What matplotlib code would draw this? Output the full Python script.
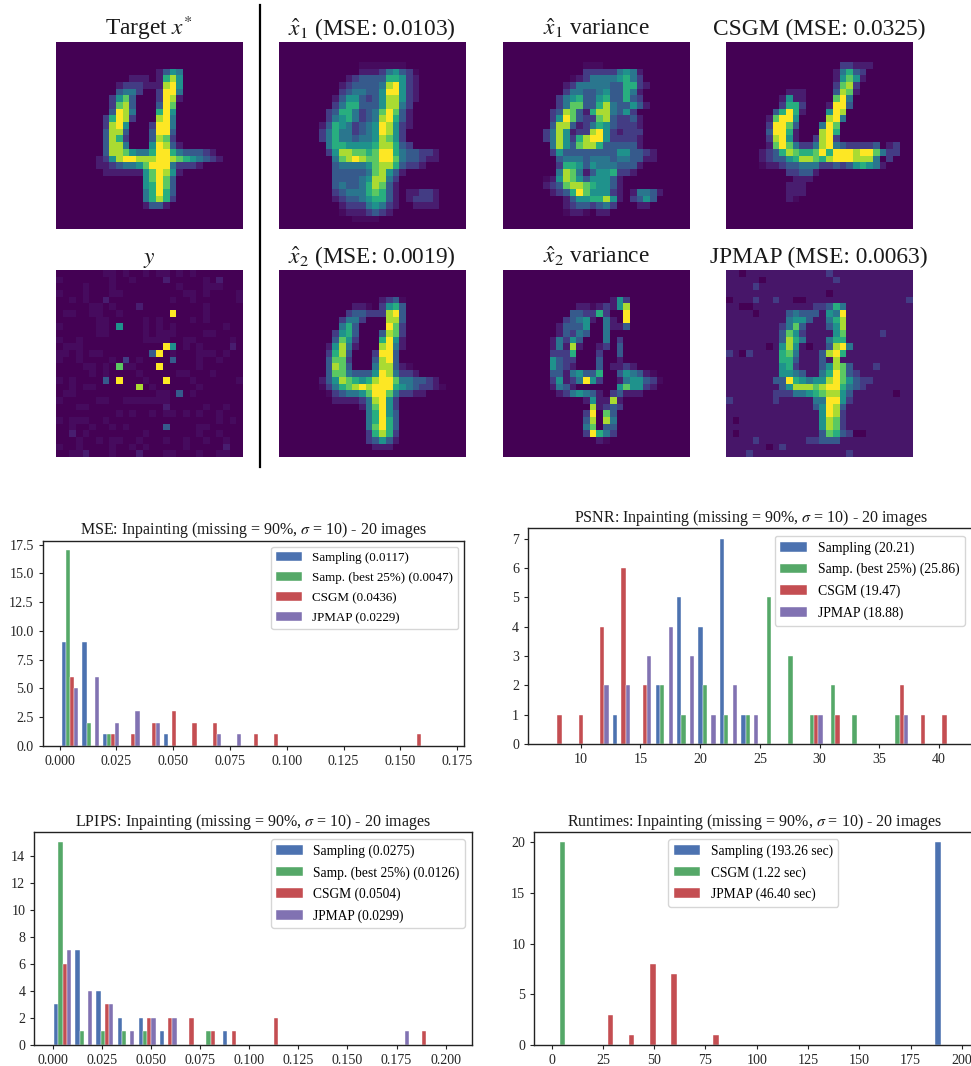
import matplotlib
matplotlib.use("Agg")
import matplotlib.pyplot as plt
import numpy as np

plt.rcParams["font.family"] = ["Liberation Serif", "DejaVu Serif"]
plt.rcParams["mathtext.fontset"] = "stix"

W, H = 971, 1066

# ---------- pixel grids: each row is "startcol:levels" segments (level 0-9, a = faint) ----------
TARGET = ["", "", "", "",
 "15:1354", "11:111 15:1685", "9:1222 13:11 15:1895", "9:3442 15:2994",
 "8:2573 15:2981", "8:2783 15:3 16:97", "8:3984 15:695", "7:26982 15:894",
 "7:2895 14:29 16:94", "7:3883 14:3993", "7:3862 14:3872", "7:3884 14:59831",
 "7:38 9:875446 15:9964333 22:21", "6:125 9:899888 15:99876543 23:21",
 "6:11 8:2344 12:57 14:999422 20:21", "7:111111 13:57985 18:1", "13:57973", "13:56973",
 "13:46963", "13:46862", "13:1331", "", "", ""]

Y_OBS = ["7:aa 10:a 13:a 15:aa 18:a 20:a", "0:a 8:a 11:a 16:1 22:a 24:1", "4:a 8:a 18:a 22:aaa",
 "0:a 4:a 8:aa 19:aa 22:a 27:a", "2:a 4:a 7:1 17:a 20:a 27:a", "5:aa 8:a 12:1 22:a",
 "1:aa 5:aa 9:a 17:9 22:a", "6:aa 13:a 15:a 20:a 22:a", "0:a 6:aa 9:5 13:a 15:a 17:a 25:a",
 "6:aa 13:a 15:aa 17:a 22:aa", "0:a 3:a 13:aaaa 19:aa 26:a", "1:aa 3:a 16:95 19:a 21:a 26:1",
 "0:aa 3:a 5:aa 14:39 17:a 21:aaa 25:a", "0:a 3:a 8:a 10:2 12:a 17:3 21:a 24:a",
 "4:aa 7:a 9:7 10:aa 15:9 21:a", "5:a 7:a 12:a 18:aa 23:a",
 "0:a 2:a 7:3 9:9 13:a 16:9 20:a 27:a", "2:a 4:aa 12:8 14:a 21:a", "1:aa 15:aa 18:3 20:a",
 "0:a 6:aa 10:aaaaaa 16:a", "3:aa 16:1 22:a 25:a", "9:a 11:a 14:a 16:aa 19:a 21:a 24:a",
 "0:a 2:aa 4:a 7:a 24:a 26:a", "2:a 5:a 8:a 10:a 16:3 21:aa", "2:1 4:a 13:a 21:a 24:a",
 "3:a 6:a 8:aa 12:a 16:a 19:a 22:a 25:a", "0:a 3:a 8:a 11:a 13:a 19:a 25:1",
 "2:aa 4:1 8:a 12:1 16:aa 21:a 24:aa"]

X1_MEAN = ["", "", "", "12:aaaaaaa",
 "12:1112 16:4532 20:a", "10:1233334 16:66521", "9:12333 14:3 15:4 16:89521", "9:2344 13:335 16:99521",
 "8:1 9:355323 15:588521", "8:246633 14:3 15:588 18:42", "7:23664234 15:797 18:31", "7:24564234 15:896 18:31",
 "6:1 7:365423 13:45 15:985 18:21", "6:246442 12:345 15:985 18:2", "6:24644 11:3445 15:875 18:2",
 "7:4665555 14:688 17:632", "7:258877 13:67 15:996 18:4332 22:21", "8:4789 12:877 15:997 18:433 21:211",
 "8:344 11:445 14:788 17:63221", "8:3333 12:3 13:4 14:785 17:31", "8:3333 12:45 14:884 17:2",
 "8:343 11:346 14:873 17:1", "8:234 11:446 14:763 17:1 19:11221", "8:123 11:345 14:663 17:1 19:12221",
 "9:1222 13:454 16:21 20:1111", "9:a111 13:232 16:1", "11:aaaa", ""]

X1_VAR = ["", "", "", "12:aaa",
 "12:22222 17:4541", "10:a124444 17:56 19:42", "9:124 12:44444 16:33 18:6621", "9:2443 13:345 16:33 18:641",
 "8:245633 14:56 16:33 18:632", "8:247733 14:68433 19:531", "7:238731 13:688433 18:52", "7:2597 11:32 13:2 14:78322 19:31",
 "7:3883 11:1246 15:532221", "6:248512 12:2 13:89 15:5212 19:22", "6:24852 11:6 12:89 14:95 16:22221",
 "7:48537 12:886 15:333331", "7:2533 11:33333 16:3 17:553 20:321", "8:3444 12:3444 16:3443 20:311",
 "8:2665 12:3544 16:4333 20:1", "8:4874 12:13556 17:221", "6:a 7:15875 12:35553 17:1",
 "6:123788 12:76553 17:1", "7:12369 12:7 13:555 16:21 19:14431", "9:13556 14:685 17:1 19:2353",
 "9:12332 14:342 20:11", "9:a11a 14:11", "", ""]

CSGM_IMG = ["", "", "", "17:22111", "16:14632", "16:15751", "16:2782", "9:111 16:3871",
 "8:1511 16:794", "8:2662 15:1993", "7:36961 15:598", "6:17995 15:894",
 "6:29973 14:4 15:97", "6:399 9:61 14:896", "6:2895 10:1 13:2892", "6:179742 12:248 15:94322223 24:12",
 "5:123687 11:667 14:96 16:99989974 24:22", "5:12335688 13:768 16:9998884 24:2", "5:a11 8:233444 14:223 17:2356 21:541",
 "9:22331", "10:111", "9:111", "9:111", "9:1a", "", "", "", ""]

X2_MEAN = ["", "", "", "",
 "15:123a", "11:11a 15:2563", "10:233222 16:893", "9:244 12:2 16:883",
 "9:463 16:972", "8:2563 15:3872", "8:3752 15:6951", "7:15841 15:8941",
 "7:2683 14:2993", "7:3772 14:3893", "7:3873 14:48831a", "7:3774333 14:598422 20:1",
 "6:1358765 13:68 15:997 18:443321", "6:a246789 13:89 15:99654322 23:1a", "7:a23445 13:79 15:974221 21:1",
 "8:11112 13:48952", "12:147952", "13:46953", "13:46963", "13:47963", "13:26862", "13:23531", "14:111", ""]

X2_VAR = ["", "", "", "",
 "16:152", "11:11a 14:1 15:21 17:58", "10:3322 14:62 18:9", "9:2345 13:1 15:41 18:9",
 "8:13335 15:411 18:3", "8:1 9:3243 15:4", "7:14253 15:4 17:2", "7:14181 14:12 17:3",
 "7:2226 14:2 17:3", "7:5322 14:3 17:1", "7:5321 14:3 16:1121", "7:331 10:4533 14:6 17:354 20:31a",
 "7:2512 11:495 14:2 17:1 18:45532a", "7:143 10:1 17:57 19:5521", "8:12454 13:31 16:231 19:11",
 "12:15 14:11 16:81", "13:8 14:1 15:2 16:32", "12:29 15:73", "12:38 15:84", "12:47 15:33", "12:296 15:42", "14:1a", "", ""]

JPMAP_IMG = ["2:0 15:2", "5:0 16:2", "4:2", "15:0", "0:0 4:2 7:2 10:00 27:2",
 "2:00 13:2236 17:4", "4:0 9:34333 15:54 17:9", "9:4553 15:4 16:68", "8:2473 15:3 16:58",
 "8:3752 16:57 23:2", "8:3864 15:4 16:66", "6:0 8:585 12:0 15:38 17:94",
 "0:2 2:02 8:674 14:3 15:8 16:96", "8:663 14:3 16:8", "8:562 14:35 16:87 18:3 22:2", "8:5543 14:46 16:973 19:2",
 "7:33965 12:455 15:89 17:75322", "8:358887 14:8 15:99 17:6432", "7:222 10:445 13:678 16:853 25:0",
 "0:2 7:2 13:44 15:995 18:2", "13:35983", "14:5982", "1:0 14:5872", "14:5872",
 "1:0 14:3763 18:2 19:00", "4:2 12:22333", "6:0 8:2", "3:2 18:2"]

# ---------- histogram data ----------
MSE_SAMPLING = [9, 9, 1, 0, 0, 1, 0, 0, 0, 0, 0, 0, 0, 0, 0, 0, 0, 0, 0]
MSE_BEST = [17, 2, 1, 0, 0, 0, 0, 0, 0, 0, 0, 0, 0, 0, 0, 0, 0, 0, 0]
MSE_CSGM = [6, 0, 1, 1, 2, 3, 2, 2, 0, 1, 1, 0, 0, 0, 0, 0, 0, 1, 0]
MSE_JPMAP = [5, 6, 2, 3, 2, 0, 0, 1, 1, 0, 0, 0, 0, 0, 0, 0, 0, 0, 0]
MSE_LABELS = ["Sampling (0.0117)", "Samp. (best 25%) (0.0047)", "CSGM (0.0436)", "JPMAP (0.0229)"]
MSE_XTICKS = [0.0, 0.025, 0.05, 0.075, 0.1, 0.125, 0.15, 0.175]
MSE_XLABELS = ["0.000", "0.025", "0.050", "0.075", "0.100", "0.125", "0.150", "0.175"]
MSE_YTICKS = [0, 2.5, 5, 7.5, 10, 12.5, 15, 17.5]
MSE_YLABELS = ["0.0", "2.5", "5.0", "7.5", "10.0", "12.5", "15.0", "17.5"]

PSNR_SAMPLING = [0, 0, 0, 1, 0, 2, 5, 4, 7, 1, 0, 0, 0, 0, 0, 0, 0, 0, 0]
PSNR_BEST = [0, 0, 0, 0, 0, 2, 1, 2, 1, 1, 5, 3, 1, 2, 1, 0, 1, 0, 0]
PSNR_CSGM = [1, 1, 4, 6, 2, 0, 0, 0, 0, 0, 0, 0, 1, 1, 0, 0, 2, 1, 1]
PSNR_JPMAP = [0, 0, 2, 2, 3, 4, 3, 1, 2, 1, 0, 0, 1, 0, 0, 0, 1, 0, 0]
PSNR_LABELS = ["Sampling (20.21)", "Samp. (best 25%) (25.86)", "CSGM (19.47)", "JPMAP (18.88)"]
PSNR_XTICKS = [10, 15, 20, 25, 30, 35, 40]
PSNR_YTICKS = [0, 1, 2, 3, 4, 5, 6, 7]

LPIPS_SAMPLING = [3, 7, 4, 2, 2, 1, 0, 0, 1, 0, 0, 0, 0, 0, 0, 0, 0, 0]
LPIPS_BEST = [15, 1, 1, 1, 1, 0, 0, 1, 0, 0, 0, 0, 0, 0, 0, 0, 0, 0]
LPIPS_CSGM = [6, 0, 3, 0, 2, 2, 2, 1, 1, 0, 2, 0, 0, 0, 0, 0, 0, 1]
LPIPS_JPMAP = [7, 4, 3, 1, 2, 2, 0, 0, 0, 0, 0, 0, 0, 0, 0, 0, 1, 0]
LPIPS_LABELS = ["Sampling (0.0275)", "Samp. (best 25%) (0.0126)", "CSGM (0.0504)", "JPMAP (0.0299)"]
LPIPS_XTICKS = [0.0, 0.025, 0.05, 0.075, 0.1, 0.125, 0.15, 0.175, 0.2]
LPIPS_XLABELS = ["0.000", "0.025", "0.050", "0.075", "0.100", "0.125", "0.150", "0.175", "0.200"]
LPIPS_YTICKS = [0, 2, 4, 6, 8, 10, 12, 14]

RUN_SAMPLING = [0] * 18 + [20]
RUN_CSGM = [20] + [0] * 18
RUN_JPMAP = [0, 0, 3, 1, 8, 7, 0, 1] + [0] * 11
RUN_LABELS = ["Sampling (193.26 sec)", "CSGM (1.22 sec)", "JPMAP (46.40 sec)"]
RUN_XTICKS = [0, 25, 50, 75, 100, 125, 150, 175, 200]
RUN_YTICKS = [0, 5, 10, 15, 20]

COLORS = ["#4C72B0", "#55A868", "#C44E52", "#8172B2"]

TOP_TITLES = [r"Target $x^{*}$", r"$\hat{x}_1$ (MSE: 0.0103)", r"$\hat{x}_1$ variance", "CSGM (MSE: 0.0325)",
              r"$y$", r"$\hat{x}_2$ (MSE: 0.0019)", r"$\hat{x}_2$ variance", "JPMAP (MSE: 0.0063)"]
HIST_TITLE = r"%s: Inpainting (missing = 90%%, $\sigma$ = 10) - 20 images"

fig = plt.figure(figsize=(W / 100, H / 100), dpi=100)


def box(x0, y0, x1, y1):
    return [x0 / W, 1 - y1 / H, (x1 - x0) / W, (y1 - y0) / H]


def level(ch):
    return 0.03 if ch == "a" else (int(ch) / 9) ** 1.15


def grid(rows, fill=0.0):
    out = np.full((28, 28), fill)
    for r, row in enumerate(rows):
        for seg in row.split():
            start, digits = seg.split(":")
            for k, ch in enumerate(digits):
                col = int(start) + k
                if col < 28:
                    out[r, col] = level(ch)
    return out


IMAGES = [(TARGET, 0.0), (X1_MEAN, 0.0), (X1_VAR, 0.0), (CSGM_IMG, 0.0),
          (Y_OBS, 0.0), (X2_MEAN, 0.0), (X2_VAR, 0.0), (JPMAP_IMG, 0.06)]
COL_X = [55.7, 278.7, 502.7, 725.7]
ROW_Y = [42.3, 270.3]
for i, (rows, fill) in enumerate(IMAGES):
    x0, y0 = COL_X[i % 4], ROW_Y[i // 4]
    ax = fig.add_axes(box(x0, y0, x0 + 186.6, y0 + 186.7))
    ax.imshow(grid(rows, fill), cmap="viridis", vmin=0, vmax=1, interpolation="nearest", aspect="auto")
    ax.set_xticks([])
    ax.set_yticks([])
    for s in ax.spines.values():
        s.set_visible(False)
    ax.set_title(TOP_TITLES[i], fontsize=16.8, pad=5.5, color="#1a1a1a")

fig.add_artist(plt.Line2D([259.7 / W, 259.7 / W], [1 - 5 / H, 1 - 467 / H], color="black", lw=1.6))


def hist_panel(rect, xlim, left, width, series, labels, title, xticks, xlabels, yticks, ylabels,
               legend_anchor, legend_loc, legend_kw):
    ax = fig.add_axes(box(*rect))
    n = len(series)
    bar_w = 0.8 * width / n
    for i, counts in enumerate(series):
        xs = [left + width * (k + 0.1) + i * bar_w for k in range(len(counts))]
        ax.bar(xs, counts, width=bar_w, align="edge", color=COLORS[i], edgecolor="white",
               linewidth=0.3, label=labels[i])
    ax.set_xlim(*xlim)
    ax.set_ylim(0, max(max(c) for c in series) * 1.05)
    ax.set_xticks(xticks, xlabels)
    ax.set_yticks(yticks, ylabels)
    ax.tick_params(labelsize=10.1, length=3, width=0.8, pad=3.5, color="#222222", labelcolor="#262626")
    for s in ax.spines.values():
        s.set_linewidth(1.0)
        s.set_color("#222222")
    ax.set_title(title, fontsize=11.55, pad=4.5, color="#1a1a1a")
    ax.legend(loc=legend_loc, bbox_to_anchor=(legend_anchor[0] / W, 1 - legend_anchor[1] / H),
              bbox_transform=fig.transFigure, borderaxespad=0, framealpha=0.8, **legend_kw)
    return ax


def leg(size, spacing):
    return dict(fontsize=size, handlelength=1.95, handletextpad=0.78, labelspacing=spacing, borderpad=0.4)


hist_panel((42.7, 540.7, 464.3, 745.7), (-0.00748, 0.1781), 0.00015, 0.00897,
           [MSE_SAMPLING, MSE_BEST, MSE_CSGM, MSE_JPMAP], MSE_LABELS, HIST_TITLE % "MSE",
           MSE_XTICKS, MSE_XLABELS, MSE_YTICKS, MSE_YLABELS, (458.3, 546.7), "upper right", leg(9.4, 0.6))
hist_panel((528, 528.3, 975, 744), (5.59, 43.0), 7.15, 1.79,
           [PSNR_SAMPLING, PSNR_BEST, PSNR_CSGM, PSNR_JPMAP], PSNR_LABELS, HIST_TITLE % "PSNR",
           PSNR_XTICKS, [str(v) for v in PSNR_XTICKS], PSNR_YTICKS, [str(v) for v in PSNR_YTICKS],
           (965, 535.7), "upper right", leg(9.95, 0.6))
hist_panel((34.3, 832.3, 471.7, 1045), (-0.00933, 0.2132), -0.0003, 0.01075,
           [LPIPS_SAMPLING, LPIPS_BEST, LPIPS_CSGM, LPIPS_JPMAP], LPIPS_LABELS, HIST_TITLE % "LPIPS",
           LPIPS_XTICKS, LPIPS_XLABELS, LPIPS_YTICKS, [str(v) for v in LPIPS_YTICKS],
           (465, 839), "upper right", leg(9.75, 0.6))
hist_panel((534.3, 832.3, 975, 1045), (-8.45, 206.4), 0.13, 10.32,
           [RUN_SAMPLING, RUN_CSGM, RUN_JPMAP], RUN_LABELS, HIST_TITLE % "Runtimes",
           RUN_XTICKS, [str(v) for v in RUN_XTICKS], RUN_YTICKS, [str(v) for v in RUN_YTICKS],
           (753.3, 839), "upper center", leg(9.75, 0.6))

fig.savefig("out.png", dpi=100)
